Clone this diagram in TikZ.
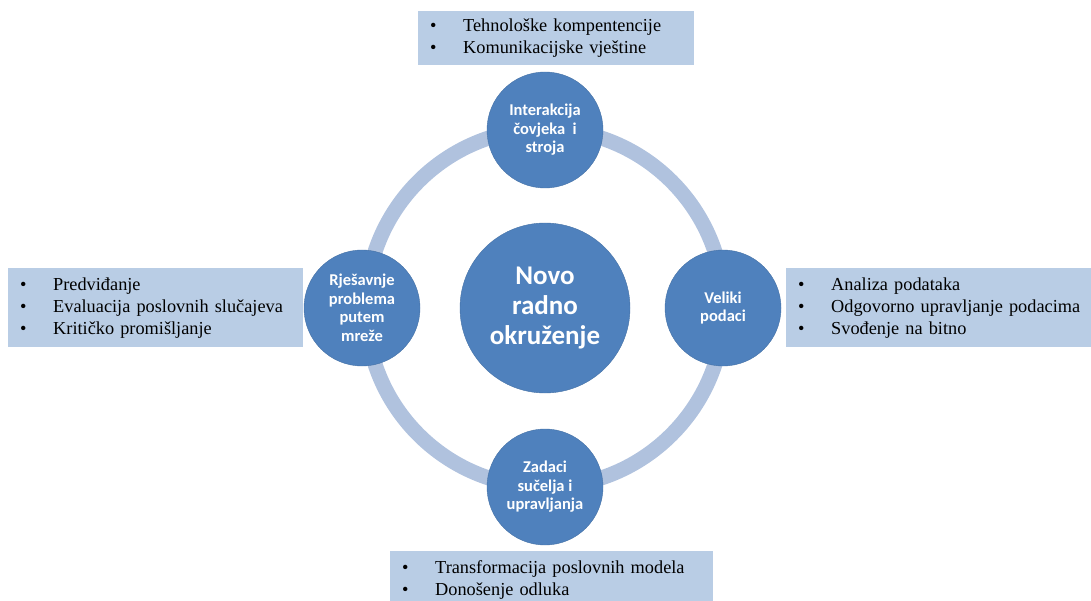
\documentclass[tikz,border=0pt]{standalone}
\usepackage{fontspec}
\setmainfont{Liberation Serif}
\newfontfamily\carlito{Carlito}
\usepackage{xcolor}
\usepackage{tikz}

\definecolor{circblue}{RGB}{79,129,189}
\definecolor{ringblue}{RGB}{176,194,222}
\definecolor{boxblue}{RGB}{185,205,229}

% one bullet line inside a list box
\newcommand{\bitem}[1]{\makebox[33pt][l]{\textbullet}#1}

\tikzset{
  hubcirc/.style={circle,fill=circblue,draw=circblue!88!black,minimum size=170pt,inner sep=0pt,
    text=white,align=center,font=\carlito\bfseries\fontsize{27}{30}\selectfont},
  topiccirc/.style={circle,fill=circblue,draw=circblue!88!black,minimum size=116pt,inner sep=0pt,
    text=white,align=center,font=\carlito\bfseries\fontsize{16.5}{18.5}\selectfont},
  listbox/.style={fill=boxblue,anchor=north west,align=left,inner xsep=12pt,inner ysep=0pt,
    font=\fontsize{18.3}{22}\selectfont}
}

\begin{document}
\begin{tikzpicture}[x=1pt,y=-1pt]
\useasboundingbox (0,0) rectangle (1091,601);

\coordinate (c) at (545,308);
\draw[ringblue,line width=15pt] (c) circle[radius=179pt]; % ring behind the circles

\node[hubcirc] (hub) at (c) {Novo\\radno\\okruženje};
\node[topiccirc] (hmi) at (545,130) {Interakcija\\čovjeka~ i\\stroja};
\node[topiccirc] (data) at (723,308) {Veliki\\podaci};
\node[topiccirc] (ui) at (545,487) {Zadaci\\sučelja i\\upravljanja};
\node[topiccirc] (net) at (362,308) {Rješavnje\\problema\\putem\\mreže};

\node[listbox,text width=252pt,minimum height=54pt] (hmibox) at (418,11)
  {\bitem{Tehnološke kompentencije}\\\bitem{Komunikacijske vještine}};
\node[listbox,text width=271pt,minimum height=79pt] (netbox) at (8,268)
  {\bitem{Predviđanje}\\\bitem{Evaluacija poslovnih slučajeva}\\\bitem{Kritičko promišljanje}};
% runs off the right edge
\node[listbox,text width=300pt,minimum height=79pt] (databox) at (786,268)
  {\bitem{Analiza podataka}\\\bitem{Odgovorno upravljanje podacima}\\\bitem{Svođenje na bitno}};
\node[listbox,text width=299pt,minimum height=58pt] (uibox) at (390,551)
  {\bitem{Transformacija poslovnih modela}\\\bitem{Donošenje odluka}};
\end{tikzpicture}
\end{document}
